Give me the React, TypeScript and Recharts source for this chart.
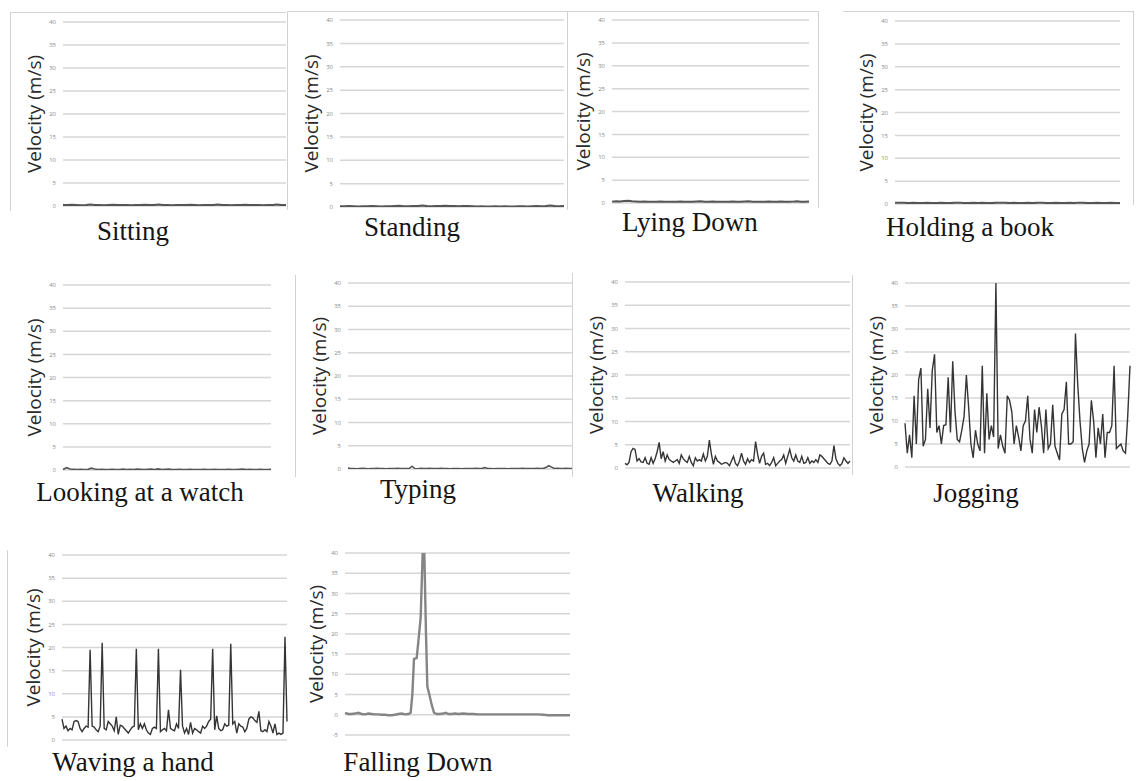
import { LineChart, Line, XAxis, YAxis, CartesianGrid } from "recharts";

// velocity samples (m/s)
const sitting = [0.2, 0.2, 0.25, 0.2, 0.15, 0.2, 0.3, 0.2, 0.2, 0.15, 0.2, 0.25, 0.2, 0.2, 0.2, 0.15, 0.2, 0.2, 0.25, 0.2, 0.2, 0.3, 0.2, 0.2, 0.15, 0.2, 0.2, 0.2, 0.25, 0.2, 0.15, 0.2, 0.2, 0.2, 0.3, 0.2, 0.2, 0.15, 0.2, 0.2, 0.25, 0.2, 0.2, 0.2, 0.15, 0.2, 0.2, 0.3, 0.2, 0.2];
const standing = [0.15, 0.15, 0.2, 0.15, 0.1, 0.15, 0.15, 0.2, 0.15, 0.1, 0.15, 0.15, 0.2, 0.25, 0.15, 0.15, 0.2, 0.2, 0.3, 0.2, 0.15, 0.2, 0.2, 0.25, 0.2, 0.2, 0.15, 0.2, 0.2, 0.15, 0.1, 0.15, 0.1, 0.1, 0.15, 0.1, 0.15, 0.1, 0.1, 0.15, 0.15, 0.1, 0.15, 0.2, 0.15, 0.2, 0.3, 0.2, 0.15, 0.2];
const lyingDown = [0.3, 0.4, 0.35, 0.45, 0.5, 0.4, 0.35, 0.3, 0.35, 0.3, 0.25, 0.3, 0.35, 0.3, 0.25, 0.3, 0.3, 0.35, 0.3, 0.25, 0.3, 0.35, 0.4, 0.3, 0.3, 0.35, 0.3, 0.25, 0.3, 0.3, 0.35, 0.3, 0.3, 0.35, 0.4, 0.3, 0.3, 0.25, 0.3, 0.35, 0.3, 0.3, 0.35, 0.3, 0.25, 0.3, 0.4, 0.3, 0.3, 0.35];
const holdingBook = [0.25, 0.3, 0.25, 0.2, 0.25, 0.2, 0.2, 0.25, 0.2, 0.2, 0.25, 0.2, 0.2, 0.25, 0.3, 0.2, 0.2, 0.25, 0.2, 0.25, 0.2, 0.2, 0.25, 0.3, 0.25, 0.2, 0.25, 0.2, 0.2, 0.25, 0.2, 0.25, 0.3, 0.2, 0.2, 0.25, 0.2, 0.2, 0.25, 0.2, 0.3, 0.25, 0.2, 0.2, 0.25, 0.2, 0.2, 0.25, 0.2, 0.2];
const lookingWatch = [0.1, 0.5, 0.2, 0.15, 0.1, 0.15, 0.1, 0.1, 0.4, 0.2, 0.1, 0.15, 0.1, 0.1, 0.15, 0.1, 0.1, 0.2, 0.1, 0.15, 0.1, 0.2, 0.15, 0.1, 0.15, 0.2, 0.1, 0.25, 0.1, 0.15, 0.2, 0.1, 0.1, 0.15, 0.1, 0.1, 0.15, 0.1, 0.1, 0.1, 0.15, 0.1, 0.1, 0.15, 0.1, 0.1, 0.1, 0.15, 0.1, 0.1, 0.15, 0.2, 0.1, 0.15, 0.1, 0.1, 0.15, 0.1, 0.1, 0.15];
const typing = [0.2, 0.1, 0.1, 0.05, 0.1, 0.15, 0.1, 0.05, 0.1, 0.1, 0.15, 0.1, 0.1, 0.05, 0.1, 0.1, 0.1, 0.15, 0.1, 0.1, 0.1, 0.1, 0.6, 0.1, 0.05, 0.15, 0.1, 0.1, 0.15, 0.1, 0.1, 0.1, 0.15, 0.1, 0.1, 0.05, 0.1, 0.1, 0.1, 0.05, 0.1, 0.1, 0.1, 0.1, 0.15, 0.1, 0.1, 0.3, 0.1, 0.1, 0.05, 0.1, 0.1, 0.1, 0.1, 0.05, 0.1, 0.1, 0.1, 0.1, 0.15, 0.1, 0.1, 0.1, 0.1, 0.15, 0.1, 0.1, 0.3, 0.7, 0.4, 0.1, 0.15, 0.1, 0.1, 0.15, 0.1, 0.1];
const walking = [1, 0.7, 1.2, 3.5, 4.2, 4, 1.5, 2, 1.3, 1.2, 2.2, 1, 0.8, 2.2, 1, 2, 3.5, 5.5, 2, 3.5, 1.5, 2.8, 1.8, 1.5, 1.2, 1.5, 1.8, 1, 2.8, 2, 1.5, 1.2, 2.5, 1.2, 0.5, 2.2, 1.5, 1.8, 1.5, 3, 1.5, 2.5, 6, 3, 0.8, 2.5, 1.5, 1.2, 0.8, 1, 1.2, 1, 0.5, 1.5, 2.5, 1, 0.5, 1.5, 3.2, 1.5, 0.8, 2, 1.2, 1.8, 1.5, 5.7, 3, 1, 2.5, 3.2, 0.8, 1, 0.5, 1.2, 2.2, 0.5, 1, 1.5, 1.8, 2.8, 1, 2.5, 4, 2.2, 1.5, 2.8, 1.5, 1.2, 2.5, 1, 1.2, 2.2, 1, 1.5, 1.2, 1.8, 1.2, 2.8, 2.5, 2, 1.5, 1, 0.8, 1.5, 4.8, 2, 1, 0.5, 1, 2.2, 1.5, 1, 1.5];
const jogging = [9.5, 3, 7, 2, 15.5, 5, 19, 21.5, 4.5, 6, 17, 8.5, 21, 24.5, 7.5, 9, 5, 9, 9.2, 19.5, 7.5, 23, 12, 6, 5.5, 8, 11, 20, 13, 5, 2, 8, 5, 3.5, 22, 3, 16, 6, 9, 6.5, 40, 4, 7, 4.5, 3, 15.5, 14.5, 12, 5, 9, 6.5, 3.5, 9, 10, 15.5, 6, 3, 12.5, 7.5, 13, 9, 3, 12.5, 4, 5, 13.5, 4.5, 3, 1.5, 11.5, 12.5, 18.5, 5, 5, 5.5, 29, 18, 10, 4, 1, 3.5, 5, 14.5, 10, 2, 8.5, 5, 11.5, 2, 7.5, 7.5, 9, 22, 4, 4.5, 5, 3.5, 3, 11, 22];
const waving = [4.5, 2.5, 3, 2, 2.5, 2.2, 4, 4.2, 4, 2.5, 1.8, 2.5, 3, 2.8, 19.5, 3, 2.8, 2.2, 1.8, 3, 21, 2.5, 2.2, 4, 3.5, 3, 2, 5, 1.2, 3.2, 3, 2.5, 2, 1.5, 2.2, 2.8, 3, 19.7, 2.2, 3.5, 2.5, 3.5, 2.2, 1.5, 1.2, 2.5, 2.8, 2.5, 19.7, 1.8, 2.2, 2.5, 2, 6.5, 2.5, 2.2, 2, 3.5, 2.5, 15.2, 3, 1.5, 2.5, 1.2, 3.8, 1.5, 2.5, 2.2, 1.8, 1.5, 3, 2.5, 3, 4, 4.5, 19.7, 2.2, 5.2, 2.5, 2, 2.2, 3.5, 3, 3.2, 20.8, 3.5, 4, 1.5, 3.5, 3, 2.8, 1.8, 2.5, 4.5, 5, 4.8, 4.2, 3.8, 6.2, 2, 1.8, 2.2, 1.8, 4, 3, 1.5, 3.5, 1.2, 1.5, 1.2, 1.5, 22.3, 4];
// falling down is sampled unevenly around the impact
const fallTime = [0, 10, 20, 30, 40, 50, 60, 70, 80, 90, 100, 110, 120, 130, 140, 150, 160, 170, 180, 190, 197, 202, 207, 215, 220, 227, 233, 238, 243, 247, 253, 260, 267, 275, 285, 295, 302, 310, 320, 330, 340, 355, 370, 385, 400, 415, 430, 445, 460, 475, 490, 505, 520, 535, 550, 565, 580, 595, 610, 625, 640, 655, 675];
const fallVel = [0.5, 0.2, 0.2, 0.3, 0.5, 0.2, 0.1, 0.3, 0.2, 0.1, 0.1, 0, 0, -0.1, -0.1, 0, 0.2, 0.3, 0.1, 0.2, 0.5, 5, 13.8, 14, 18, 24, 40, 40, 20, 7, 5, 2.5, 0.5, 0.2, 0.2, 0.3, 0.5, 0.2, 0.2, 0.3, 0.2, 0.3, 0.2, 0.2, 0.1, 0.1, 0.1, 0.1, 0.1, 0.1, 0.1, 0.1, 0.1, 0.1, 0.1, 0.1, 0.1, 0, -0.1, -0.1, -0.1, -0.1, -0.1];

const ticksPos = [0, 5, 10, 15, 20, 25, 30, 35, 40];
const ticksFall = [-5, 0, 5, 10, 15, 20, 25, 30, 35, 40];

const byIndex = (vals: number[]) => vals.map((v, i) => ({ i, v }));

const AXIS_W = 48;

const YTitle = (props: any) => {
  const vb = props.viewBox || { x: 0, y: 0, width: 0, height: 0 };
  const cx = vb.x + AXIS_W - 29;
  const cy = vb.y + vb.height / 2;
  return (
    <text
      x={cx}
      y={cy}
      transform={`rotate(-90 ${cx} ${cy})`}
      textAnchor="middle"
      dominantBaseline="central"
      fill="#2a2a2a"
      fontFamily="'Open Sans', sans-serif"
      fontSize={19}
    >
      Velocity (m/s)
    </text>
  );
};

const Panel = ({ p }: any) => {
  const padT = 4;
  const padB = 4;
  const plotW = p.right - p.left;
  const plotH = p.bottom - p.top;
  return (
    <>
      <div style={{ position: "absolute", left: p.left - AXIS_W, top: p.top - padT }}>
        <LineChart
          width={AXIS_W + plotW + 2}
          height={plotH + padT + padB}
          data={p.data}
          margin={{ top: padT, right: 2, bottom: padB, left: 0 }}
        >
          <CartesianGrid vertical={false} stroke="#d6d6d6" strokeWidth={1.5} />
          <XAxis dataKey="i" type="number" domain={["dataMin", "dataMax"]} hide />
          <YAxis
            width={AXIS_W}
            domain={p.domain}
            ticks={p.ticks}
            interval={0}
            allowDataOverflow
            tickLine={false}
            axisLine={false}
            tickSize={0}
            tickMargin={7}
            tick={{ fontSize: 6, fill: "#8a8a8a", fontFamily: "'Open Sans', sans-serif" }}
            label={<YTitle />}
          />
          <Line
            type="linear"
            dataKey="v"
            stroke={p.stroke}
            strokeWidth={p.sw}
            dot={false}
            isAnimationActive={false}
          />
        </LineChart>
      </div>
      <div
        style={{
          position: "absolute",
          left: p.titleX - 150,
          width: 300,
          top: p.titleY - 25,
          textAlign: "center",
          fontFamily: "'Liberation Serif', 'Times New Roman', serif",
          fontSize: 27,
          lineHeight: "31px",
          color: "#151515",
          whiteSpace: "nowrap",
        }}
      >
        {p.title}
      </div>
    </>
  );
};

const dark = "#353535";
const flat = "#555555";

const panels = [
  { title: "Sitting", data: byIndex(sitting), left: 63, right: 286, top: 22, bottom: 206, titleX: 133, titleY: 241, domain: [0, 40], ticks: ticksPos, stroke: flat, sw: 2 },
  { title: "Standing", data: byIndex(standing), left: 340, right: 564, top: 20, bottom: 207, titleX: 412, titleY: 237, domain: [0, 40], ticks: ticksPos, stroke: flat, sw: 2 },
  { title: "Lying Down", data: byIndex(lyingDown), left: 612, right: 809, top: 20, bottom: 203, titleX: 690, titleY: 232, domain: [0, 40], ticks: ticksPos, stroke: flat, sw: 2 },
  { title: "Holding a book", data: byIndex(holdingBook), left: 895, right: 1120, top: 21, bottom: 204, titleX: 970, titleY: 237, domain: [0, 40], ticks: ticksPos, stroke: flat, sw: 2 },
  { title: "Looking at a watch", data: byIndex(lookingWatch), left: 63, right: 271, top: 285, bottom: 470, titleX: 140, titleY: 502, domain: [0, 40], ticks: ticksPos, stroke: flat, sw: 1.6 },
  { title: "Typing", data: byIndex(typing), left: 348, right: 572, top: 283, bottom: 469, titleX: 418, titleY: 499, domain: [0, 40], ticks: ticksPos, stroke: flat, sw: 1.6 },
  { title: "Walking", data: byIndex(walking), left: 625, right: 850, top: 282, bottom: 468, titleX: 698, titleY: 503, domain: [0, 40], ticks: ticksPos, stroke: dark, sw: 1.4 },
  { title: "Jogging", data: byIndex(jogging), left: 905, right: 1130, top: 283, bottom: 467, titleX: 976, titleY: 503, domain: [0, 40], ticks: ticksPos, stroke: dark, sw: 1.4 },
  { title: "Waving a hand", data: byIndex(waving), left: 62, right: 287, top: 555, bottom: 740, titleX: 133, titleY: 772, domain: [0, 40], ticks: ticksPos, stroke: dark, sw: 1.4 },
  { title: "Falling Down", data: fallTime.map((t, k) => ({ i: t, v: fallVel[k] })), left: 345, right: 570, top: 553, bottom: 735, titleX: 418, titleY: 772, domain: [-5, 40], ticks: ticksFall, stroke: "#858585", sw: 2.4 },
];

// thin grey frame edges left over from the pasted screenshots
const frameLines = [
  { x: 10, y: 12, w: 276, h: 1 },
  { x: 10, y: 12, w: 1, h: 199 },
  { x: 287, y: 11, w: 280, h: 1 },
  { x: 287, y: 11, w: 1, h: 199 },
  { x: 567, y: 11, w: 251, h: 1 },
  { x: 567, y: 11, w: 1, h: 199 },
  { x: 818, y: 11, w: 1, h: 197 },
  { x: 843, y: 11, w: 290, h: 1 },
  { x: 1133, y: 11, w: 1, h: 194 },
  { x: 295, y: 275, w: 1, h: 202 },
  { x: 572, y: 273, w: 1, h: 204 },
  { x: 852, y: 275, w: 1, h: 200 },
  { x: 7, y: 550, w: 1, h: 197 },
];

export default function App() {
  return (
    <div
      style={{
        position: "absolute",
        left: 0,
        top: 0,
        width: 1136,
        height: 781,
        background: "#ffffff",
        overflow: "hidden",
      }}
    >
      {frameLines.map((f, k) => (
        <div
          key={k}
          style={{ position: "absolute", left: f.x, top: f.y, width: f.w, height: f.h, background: "#d2d2d2" }}
        />
      ))}
      {panels.map((p) => (
        <Panel key={p.title} p={p} />
      ))}
    </div>
  );
}
